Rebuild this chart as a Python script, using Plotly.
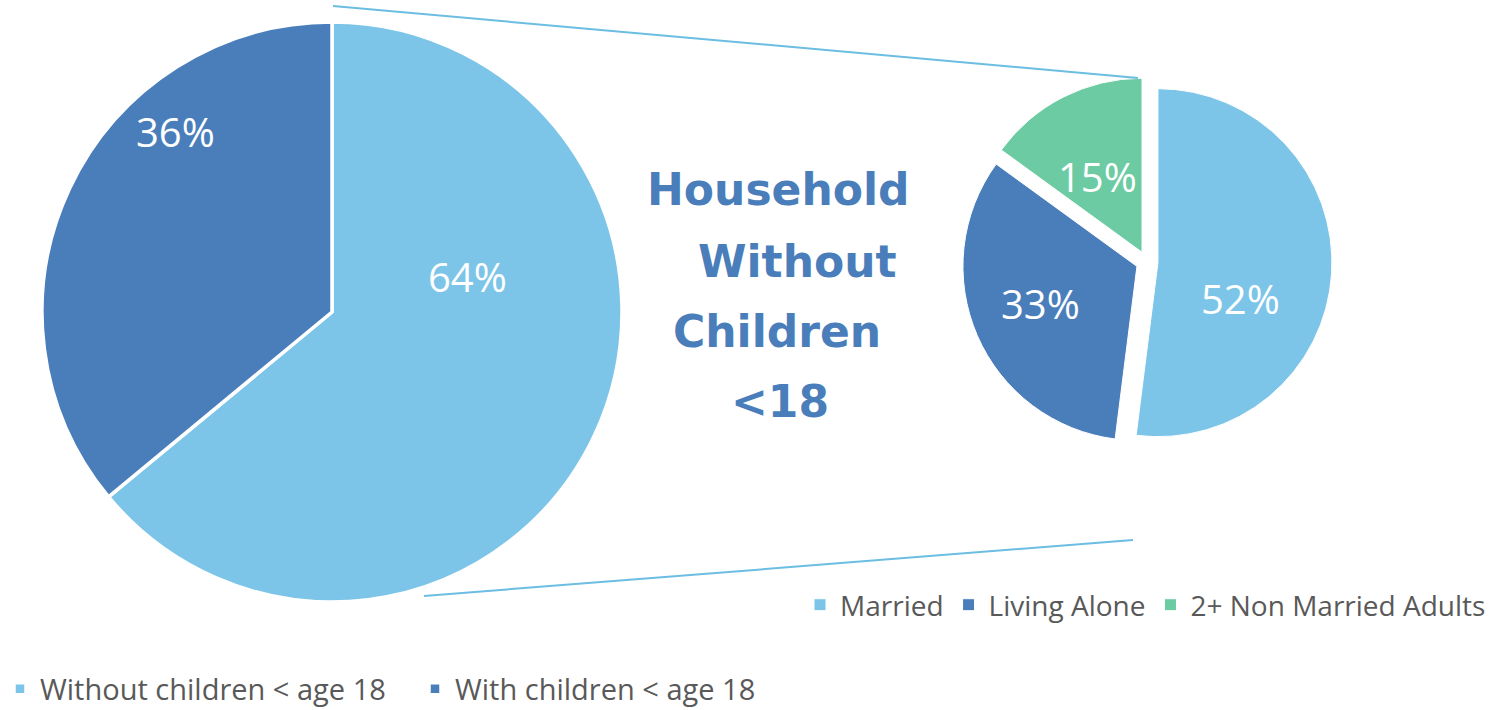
import plotly.graph_objects as go

# Figure canvas
W, H = 1491, 710

# Household composition
main_labels = ["Without children < age 18", "With children < age 18"]
main_values = [64, 36]

# Breakdown of households without children under 18
sub_labels = ["Married", "Living Alone", "2+ Non Married Adults"]
sub_values = [52, 33, 15]

center_title = ["Household", "Without", "Children", "<18"]

LIGHT = "#7DC5E8"
DARK = "#4A7EBB"
GREEN = "#6DCBA4"
TITLE_BLUE = "#4A7EBB"
LINK = "#6BBDE2"
LEGEND_GREY = "#595959"
FONT = "Open Sans"


def px(x, y):
    """Pixel position -> paper coordinates."""
    return x / W, 1 - y / H


def domain_box(cx, cy, half):
    x0, y1 = px(cx - half, cy - half)
    x1, y0 = px(cx + half, cy + half)
    return dict(x=[x0, x1], y=[y0, y1])


# pie geometry (pixels)
MAIN_C, MAIN_R = (332, 312), 290
SUB_C, SUB_R, SUB_PULL = (1147, 262), 174, 0.063

fig = go.Figure()

fig.add_trace(go.Pie(
    labels=main_labels, values=main_values,
    sort=False, direction="clockwise", rotation=0,
    marker=dict(colors=[LIGHT, DARK], line=dict(color="white", width=3.5)),
    textinfo="none", hoverinfo="skip",
    domain=domain_box(*MAIN_C, MAIN_R),
    legend="legend",
))

fig.add_trace(go.Pie(
    labels=sub_labels, values=sub_values,
    sort=False, direction="clockwise", rotation=0,
    pull=[SUB_PULL] * len(sub_values),
    marker=dict(colors=[LIGHT, DARK, GREEN], line=dict(color="white", width=1)),
    textinfo="none", hoverinfo="skip",
    domain=domain_box(*SUB_C, SUB_R * (1 + SUB_PULL)),
    legend="legend2",
))

# connector lines between the two pies
for (x0, y0), (x1, y1) in [((333, 6), (1138, 78)), ((424, 596), (1133, 540))]:
    a0, b0 = px(x0, y0)
    a1, b1 = px(x1, y1)
    fig.add_shape(type="line", xref="paper", yref="paper",
                  x0=a0, y0=b0, x1=a1, y1=b1,
                  line=dict(color=LINK, width=2))

# percentage labels inside slices
pct_pos = {
    "main": [(467, 277), (175, 132)],
    "sub": [(1240, 298), (1040, 303), (1097, 176)],
}
for vals, key in [(main_values, "main"), (sub_values, "sub")]:
    for v, (x, y) in zip(vals, pct_pos[key]):
        ax, ay = px(x, y)
        fig.add_annotation(x=ax, y=ay, xref="paper", yref="paper",
                           text=f"{v}%", showarrow=False,
                           xanchor="center", yanchor="middle",
                           font=dict(family=FONT, size=40, color="white"))

# center title
title_pos = [(778, 190), (798, 262), (777, 331), (780, 401)]
for line, (x, y) in zip(center_title, title_pos):
    ax, ay = px(x, y)
    fig.add_annotation(x=ax, y=ay, xref="paper", yref="paper",
                       text=f"<b>{line}</b>", showarrow=False,
                       xanchor="center", yanchor="middle",
                       font=dict(family="DejaVu Sans", size=44, color=TITLE_BLUE))

lx, ly = px(0, 689)
l2x, l2y = px(1491, 605)

fig.update_layout(
    width=W, height=H,
    margin=dict(l=0, r=0, t=0, b=0, autoexpand=False),
    paper_bgcolor="white", plot_bgcolor="white",
    showlegend=True,
    legend=dict(orientation="h", x=lx, y=ly, xanchor="left", yanchor="middle",
                font=dict(family=FONT, size=29, color=LEGEND_GREY),
                entrywidth=370, entrywidthmode="pixels",
                bgcolor="rgba(0,0,0,0)", itemclick=False),
    legend2=dict(orientation="h", x=l2x, y=l2y, xanchor="right", yanchor="middle",
                 font=dict(family=FONT, size=28, color=LEGEND_GREY),
                 bgcolor="rgba(0,0,0,0)", itemclick=False),
)

fig.write_html("out.html")
